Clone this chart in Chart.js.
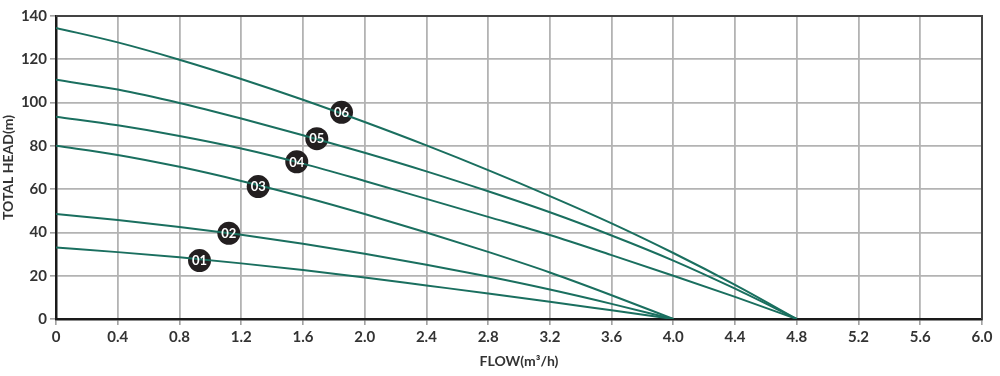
<!DOCTYPE html>
<html lang="en">
<head>
    <meta charset="UTF-8">
    <title>Pump performance curves</title>
    <script src="https://cdn.jsdelivr.net/npm/chart.js"></script>
    <style>
        html, body { margin: 0; padding: 0; background: #fff; }
        #wrap { width: 1000px; height: 376px; }
    </style>
</head>
<body>
    <div id="wrap">
        <canvas id="pumpChart"></canvas>
    </div>

    <script>
        // flow points (m3/h) for short (01-03) and long (04-06) curves
        const flowShort = [0, 0.4, 0.8, 1.2, 1.6, 2.0, 2.4, 2.8, 3.2, 3.6, 4.0];
        const flowLong = [0, 0.4, 0.8, 1.2, 1.6, 2.0, 2.4, 2.8, 3.2, 3.6, 4.0, 4.4, 4.8];

        // total head (m)
        const head01 = [33, 30.9, 28.5, 25.7, 22.6, 19.2, 15.5, 11.8, 8, 4, 0];
        const head02 = [48.5, 45.7, 42.5, 38.9, 34.8, 30.2, 25.1, 19.6, 13.6, 7, 0];
        const head03 = [80, 75.8, 70.3, 63.8, 56.5, 48.5, 40, 31, 21.5, 11, 0];
        const head04 = [93.5, 89.5, 84.6, 78.8, 71.8, 63.8, 55.5, 47.2, 38.8, 29.5, 20, 10.2, 0];
        const head05 = [110.5, 106, 99.8, 92.6, 84.9, 76.8, 68.2, 59, 49.3, 38.6, 27, 14, 0];
        const head06 = [134.5, 127.8, 119.8, 110.9, 101.3, 91, 80.2, 68.8, 56.8, 44.2, 30.5, 15.8, 0];

        // curve number badges
        const badgeText = ['01', '02', '03', '04', '05', '06'];
        const badgeFlow = [0.93, 1.12, 1.31, 1.56, 1.69, 1.85];
        const badgeHead = [27, 39.6, 61.2, 72.6, 83.3, 95.5];

        const xTicks = [0, 0.4, 0.8, 1.2, 1.6, 2.0, 2.4, 2.8, 3.2, 3.6, 4.0, 4.4, 4.8, 5.2, 5.6, 6.0];

        const lineColor = '#1a6f5f';
        const textColor = '#333333';

        function toPoints(xs, ys) {
            return ys.map((y, i) => ({ x: xs[i], y: y }));
        }

        function curve(xs, ys) {
            return {
                type: 'line',
                data: toPoints(xs, ys),
                borderColor: lineColor,
                borderWidth: 2,
                pointRadius: 0,
                cubicInterpolationMode: 'monotone',
                fill: false
            };
        }

        // frame top/right edges + badge numbers
        const framePlugin = {
            id: 'frame',
            beforeDatasetsDraw(chart) {
                const { ctx, chartArea: a } = chart;
                ctx.save();
                ctx.strokeStyle = '#444';
                ctx.lineWidth = 2;
                ctx.beginPath();
                ctx.moveTo(a.left, a.top);
                ctx.lineTo(a.right, a.top);
                ctx.lineTo(a.right, a.bottom);
                ctx.stroke();
                ctx.restore();
            },
            afterDatasetsDraw(chart) {
                const { ctx } = chart;
                const xs = chart.scales.x, ys = chart.scales.y;
                ctx.save();
                ctx.fillStyle = '#fff';
                ctx.font = 'bold 13px Lato';
                ctx.textAlign = 'center';
                ctx.textBaseline = 'middle';
                badgeText.forEach((t, i) => {
                    ctx.fillText(t, xs.getPixelForValue(badgeFlow[i]), ys.getPixelForValue(badgeHead[i]) + 0.5);
                });
                ctx.restore();
            }
        };

        const ctx = document.getElementById('pumpChart').getContext('2d');

        new Chart(ctx, {
            type: 'scatter',
            data: {
                datasets: [
                    curve(flowShort, head01),
                    curve(flowShort, head02),
                    curve(flowShort, head03),
                    curve(flowLong, head04),
                    curve(flowLong, head05),
                    curve(flowLong, head06),
                    {
                        type: 'scatter',
                        data: toPoints(badgeFlow, badgeHead),
                        pointRadius: 11.5,
                        pointBackgroundColor: '#231f20',
                        pointBorderWidth: 0
                    }
                ]
            },
            options: {
                responsive: true,
                maintainAspectRatio: false,
                animation: false,
                layout: {
                    padding: { left: 0, right: 18, top: 16, bottom: 6 }
                },
                plugins: {
                    legend: { display: false },
                    tooltip: { enabled: false }
                },
                scales: {
                    x: {
                        type: 'linear',
                        min: 0,
                        max: 6,
                        afterBuildTicks(scale) {
                            scale.ticks = xTicks.map(v => ({ value: v }));
                        },
                        afterFit(scale) { scale.height = 51; },
                        ticks: {
                            callback: v => v === 0 ? '0' : v.toFixed(1),
                            color: textColor,
                            font: { family: 'Lato', size: 15, weight: 'bold' },
                            padding: 3,
                            maxRotation: 0
                        },
                        grid: {
                            color: '#b3b3b3',
                            lineWidth: 1.8,
                            tickColor: '#666',
                            tickLength: 6,
                            tickWidth: 1
                        },
                        border: { color: '#1a1a1a', width: 2.5 },
                        title: {
                            display: true,
                            text: 'FLOW(m³/h)',
                            color: textColor,
                            font: { family: 'Lato', size: 14, weight: 'bold' },
                            padding: { top: 2, bottom: 0 }
                        }
                    },
                    y: {
                        min: 0,
                        max: 140,
                        afterFit(scale) { scale.width = 56; },
                        ticks: {
                            stepSize: 20,
                            color: textColor,
                            font: { family: 'Lato', size: 15, weight: 'bold' },
                            padding: 3
                        },
                        grid: {
                            color: '#b3b3b3',
                            lineWidth: 1.8,
                            tickColor: '#666',
                            tickLength: 6,
                            tickWidth: 1
                        },
                        border: { color: '#1a1a1a', width: 2.5 },
                        title: {
                            display: true,
                            text: 'TOTAL HEAD(m)',
                            color: textColor,
                            font: { family: 'Lato', size: 14, weight: 'bold' },
                            padding: { top: 0, bottom: 0 }
                        }
                    }
                }
            },
            plugins: [framePlugin]
        });
    </script>
</body>
</html>
